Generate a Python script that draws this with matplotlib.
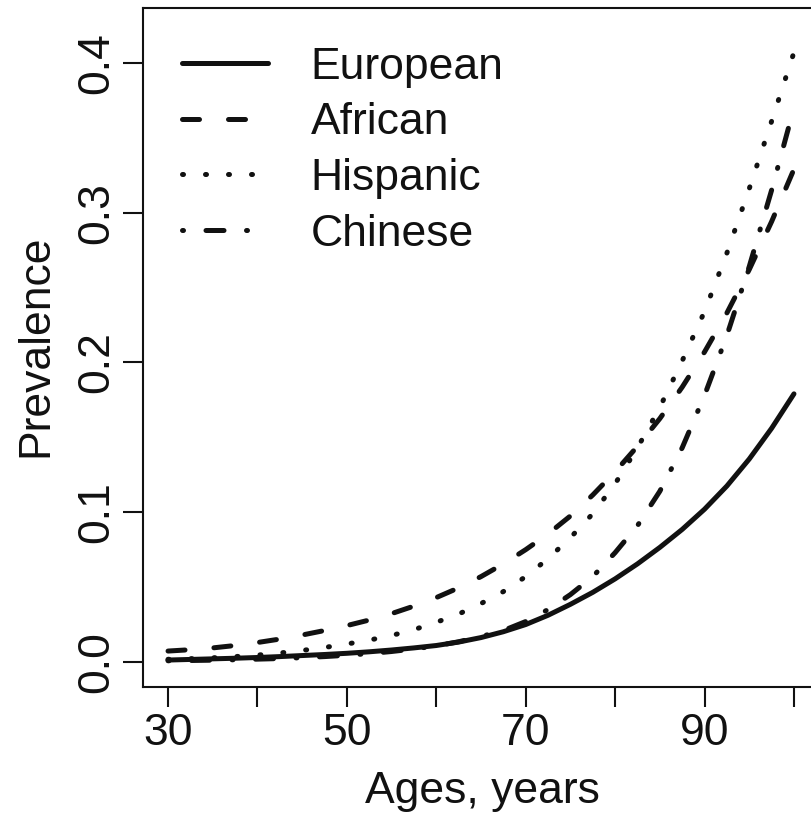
import matplotlib
matplotlib.use("Agg")
import matplotlib.pyplot as plt
import numpy as np

plt.rcParams['font.family'] = ['Liberation Sans', 'DejaVu Sans']

# prevalence, ages 30..100 every 2.5 years
ages = np.arange(30, 100.01, 2.5)
european = [0.0013, 0.0017, 0.0021, 0.0025, 0.0030, 0.0036, 0.0043, 0.0050,
            0.0058, 0.0068, 0.0080, 0.0094, 0.0110, 0.0133, 0.0163, 0.0202,
            0.0250, 0.0312, 0.0385, 0.0465, 0.0555, 0.0655, 0.0765, 0.0885,
            0.1020, 0.1175, 0.1355, 0.1560, 0.1790]
african = [0.0073, 0.0082, 0.0094, 0.0110, 0.0130, 0.0153, 0.0180, 0.0210,
           0.0243, 0.0280, 0.0323, 0.0373, 0.0430, 0.0495, 0.0570, 0.0655,
           0.0750, 0.0855, 0.0975, 0.1115, 0.1270, 0.1440, 0.1625, 0.1835,
           0.2070, 0.2330, 0.2620, 0.2940, 0.3290]
hispanic = [0.0018, 0.0022, 0.0028, 0.0036, 0.0046, 0.0060, 0.0077, 0.0097,
            0.0120, 0.0146, 0.0177, 0.0216, 0.0265, 0.0320, 0.0390, 0.0470,
            0.0570, 0.0690, 0.0830, 0.0990, 0.1190, 0.1430, 0.1700, 0.2010,
            0.2340, 0.2730, 0.3160, 0.3610, 0.4070]
chinese = [0.0008, 0.0010, 0.0012, 0.0015, 0.0019, 0.0023, 0.0029, 0.0036,
           0.0045, 0.0056, 0.0070, 0.0087, 0.0108, 0.0135, 0.0170, 0.0210,
           0.0270, 0.0350, 0.0450, 0.0570, 0.0730, 0.0910, 0.1140, 0.1430,
           0.1780, 0.2180, 0.2640, 0.3150, 0.3700]

x_ticks = [30, 40, 50, 60, 70, 80, 90, 100]
x_labels = ['30', '', '50', '', '70', '', '90', '']
y_ticks = [0.0, 0.1, 0.2, 0.3, 0.4]
y_labels = ['0.0', '0.1', '0.2', '0.3', '0.4']

W, H = 812, 819
fig = plt.figure(figsize=(W / 100, H / 100), dpi=100)
# the right spine lies just outside the picture, as in the original crop
ax = fig.add_axes([143 / W, 1 - 687 / H, (819 - 143) / W, (687 - 8) / H])

ink = '#111111'
lw = 3.6
ax.plot(ages, european, color=ink, lw=lw, solid_capstyle='round', label='European')
ax.plot(ages, african, color=ink, lw=lw, dashes=(3.4, 5.8),
        dash_capstyle='round', label='African')
ax.plot(ages, hispanic, color=ink, lw=lw, dashes=(0.2, 4.4),
        dash_capstyle='round', label='Hispanic')
ax.plot(ages, chinese, color=ink, lw=lw, dashes=(0.2, 4.5, 3.6, 4.5),
        dash_capstyle='round', label='Chinese')

ax.set_xlim(27.2, 102.8)
ax.set_ylim(-0.0167, 0.4366)
ax.set_xticks(x_ticks)
ax.set_xticklabels(x_labels)
ax.set_yticks(y_ticks)
ax.set_yticklabels(y_labels, rotation=90, va='center')

for s in ax.spines.values():
    s.set_linewidth(1.5)
    s.set_color(ink)
ax.tick_params(length=14.5, width=1.5, color=ink, labelsize=32,
               labelcolor=ink)
ax.tick_params(axis='x', pad=4)
ax.tick_params(axis='y', pad=4)

fig.text(482 / W, 1 - 803 / H, 'Ages, years', fontsize=32, color=ink,
         ha='center', va='baseline')
fig.text(47 / W, 1 - 346 / H, 'Prevalence', fontsize=32, color=ink,
         ha='center', va='baseline', rotation=90, rotation_mode='anchor')

ax.legend(loc='upper left', bbox_to_anchor=(0.0577, 0.943), frameon=False,
          fontsize=32, handlelength=1.94, handletextpad=0.95,
          labelspacing=0.33, borderpad=0, borderaxespad=0,
          labelcolor=ink)

fig.savefig('out.png', dpi=100)
